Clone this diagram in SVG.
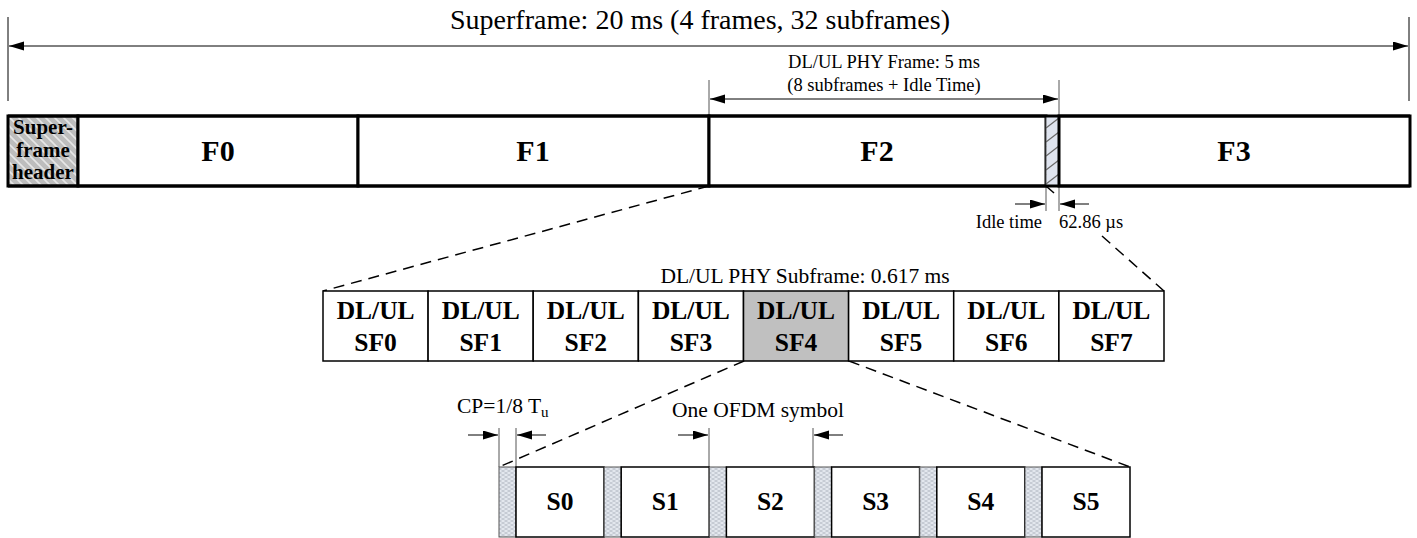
<svg xmlns="http://www.w3.org/2000/svg" width="1417" height="538" viewBox="0 0 1417 538">
<style>
text{font-family:"Liberation Serif","Times New Roman",serif;fill:#000}
.t18{font-size:18.5px}
.t22{font-size:21.5px}
.title{font-size:28px}
.b{font-weight:bold;text-anchor:middle}
.fl{font-size:30px}
.sf{font-size:25.5px}
.hd{font-size:21px}
.ln{stroke:#000;stroke-width:1;fill:none}
.gl{stroke:#555;stroke-width:1;fill:none}
.dash{stroke:#000;stroke-width:1.5;fill:none;stroke-dasharray:11 7}
.frame{fill:#fff;stroke:#000;stroke-width:3}
.box{fill:#fff;stroke:#000;stroke-width:1.5}
</style>
<defs>
<marker id="ah" markerUnits="userSpaceOnUse" markerWidth="16" markerHeight="10" refX="15" refY="4.5" orient="auto-start-reverse">
<path d="M0,0 L15,4.5 L0,9 z" fill="#000"/>
</marker>
<pattern id="hdr" patternUnits="userSpaceOnUse" width="9" height="9">
<rect width="9" height="9" fill="#bdbdbd"/>
<path d="M0,0 L9,9 M-3,6 L3,12 M6,-3 L12,3" stroke="#e6e6e6" stroke-width="1.6"/>
</pattern>
<pattern id="idle" patternUnits="userSpaceOnUse" x="1046" y="116" width="13" height="14">
<rect width="13" height="14" fill="#dfe4ef"/>
<path d="M0,12 L13,2 M-13,12 L0,2" stroke="#6a6a6a" stroke-width="1.3"/>
</pattern>
<pattern id="cp" patternUnits="userSpaceOnUse" width="6" height="4">
<rect width="6" height="4" fill="#e3e7ee"/>
<rect x="0.5" y="0.5" width="3" height="1" fill="#a9afbb"/>
<rect x="3.5" y="2.5" width="3" height="1" fill="#a9afbb"/>
<rect x="-2.5" y="2.5" width="3" height="1" fill="#a9afbb"/>
</pattern>
</defs>

<text class="title" x="700" y="29" text-anchor="middle">Superframe: 20 ms (4 frames, 32 subframes)</text>

<g id="connectors">
<line class="ln" x1="8" y1="17" x2="8" y2="101"/>
<line class="ln" x1="1409" y1="17" x2="1409" y2="101"/>
<line class="ln" x1="9" y1="46" x2="1408" y2="46" marker-start="url(#ah)" marker-end="url(#ah)"/>
<line class="gl" x1="709" y1="80" x2="709" y2="116"/>
<line class="gl" x1="1059" y1="80" x2="1059" y2="116"/>
<line class="ln" x1="710" y1="99" x2="1058" y2="99" marker-start="url(#ah)" marker-end="url(#ah)"/>
<line class="gl" x1="1046" y1="186" x2="1046" y2="211"/>
<line class="gl" x1="1059" y1="186" x2="1059" y2="211"/>
<line class="ln" x1="1015" y1="204" x2="1045" y2="204" marker-end="url(#ah)"/>
<line class="ln" x1="1089" y1="204" x2="1060" y2="204" marker-end="url(#ah)"/>
<line class="dash" x1="709" y1="186" x2="323" y2="291"/>
<line class="dash" x1="1046" y1="186" x2="1054" y2="193"/>
<line class="dash" x1="1102" y1="236" x2="1164" y2="291"/>
<line class="dash" x1="744" y1="361" x2="499" y2="467"/>
<line class="dash" x1="849" y1="361" x2="1130" y2="467"/>
<line class="gl" x1="499" y1="428" x2="499" y2="467"/>
<line class="gl" x1="516" y1="428" x2="516" y2="467"/>
<line class="ln" x1="468" y1="435" x2="498" y2="435" marker-end="url(#ah)"/>
<line class="ln" x1="546" y1="435" x2="517" y2="435" marker-end="url(#ah)"/>
<line class="gl" x1="709" y1="428" x2="709" y2="467"/>
<line class="gl" x1="813" y1="428" x2="813" y2="467"/>
<line class="ln" x1="678" y1="435" x2="708" y2="435" marker-end="url(#ah)"/>
<line class="ln" x1="843" y1="435" x2="814" y2="435" marker-end="url(#ah)"/>
</g>

<text class="t18" x="884" y="68" text-anchor="middle">DL/UL PHY Frame: 5 ms</text>
<text class="t18" x="884" y="91" text-anchor="middle">(8 subframes + Idle Time)</text>
<text class="t18" x="1042" y="228" text-anchor="end">Idle time</text>
<text class="t18" x="1059" y="228">62.86 µs</text>

<g id="superframe-header">
<rect x="8" y="116" width="70" height="70" fill="url(#hdr)" stroke="#000" stroke-width="3"/>
<text class="b hd" x="43" y="134">Super-</text>
<text class="b hd" x="43" y="157">frame</text>
<text class="b hd" x="43" y="179">header</text>
</g>
<g id="F0">
<rect class="frame" x="78" y="116" width="280" height="70"/>
<text class="b fl" x="218" y="161">F0</text>
</g>
<g id="F1">
<rect class="frame" x="358" y="116" width="351" height="70"/>
<text class="b fl" x="533" y="161">F1</text>
</g>
<g id="F2">
<rect class="frame" x="709" y="116" width="337" height="70"/>
<text class="b fl" x="877" y="161">F2</text>
</g>
<g id="idle-time">
<rect x="1046" y="116" width="13" height="70" fill="url(#idle)" stroke="#555" stroke-width="1"/>
</g>
<g id="F3">
<rect class="frame" x="1059" y="116" width="351" height="70"/>
<text class="b fl" x="1234" y="161">F3</text>
</g>
<line x1="8" y1="116" x2="1410" y2="116" stroke="#000" stroke-width="3"/>
<line x1="8" y1="186" x2="1410" y2="186" stroke="#000" stroke-width="3"/>

<text class="t22" x="805" y="283" text-anchor="middle">DL/UL PHY Subframe: 0.617 ms</text>

<g id="SF0"><rect class="box" x="323" y="291" width="105.1" height="70"/><text class="b sf" x="375.6" y="319">DL/UL</text><text class="b sf" x="375.6" y="351">SF0</text></g>
<g id="SF1"><rect class="box" x="428.1" y="291" width="105.1" height="70"/><text class="b sf" x="480.7" y="319">DL/UL</text><text class="b sf" x="480.7" y="351">SF1</text></g>
<g id="SF2"><rect class="box" x="533.2" y="291" width="105.1" height="70"/><text class="b sf" x="585.8" y="319">DL/UL</text><text class="b sf" x="585.8" y="351">SF2</text></g>
<g id="SF3"><rect class="box" x="638.4" y="291" width="105.1" height="70"/><text class="b sf" x="690.9" y="319">DL/UL</text><text class="b sf" x="690.9" y="351">SF3</text></g>
<g id="SF4"><rect class="box" x="743.5" y="291" width="105.1" height="70" style="fill:#c0c0c0"/><text class="b sf" x="796" y="319">DL/UL</text><text class="b sf" x="796" y="351">SF4</text></g>
<g id="SF5"><rect class="box" x="848.6" y="291" width="105.1" height="70"/><text class="b sf" x="901.1" y="319">DL/UL</text><text class="b sf" x="901.1" y="351">SF5</text></g>
<g id="SF6"><rect class="box" x="953.7" y="291" width="105.1" height="70"/><text class="b sf" x="1006.3" y="319">DL/UL</text><text class="b sf" x="1006.3" y="351">SF6</text></g>
<g id="SF7"><rect class="box" x="1058.9" y="291" width="105.1" height="70"/><text class="b sf" x="1111.4" y="319">DL/UL</text><text class="b sf" x="1111.4" y="351">SF7</text></g>

<text class="t22" x="457" y="413">CP=1/8 T<tspan font-size="15" dy="4">u</tspan></text>
<text class="t22" x="672" y="417">One OFDM symbol</text>

<g id="S0"><rect x="499" y="467" width="17" height="70" fill="url(#cp)" stroke="#555" stroke-width="1"/><rect class="box" x="516" y="467" width="88" height="70"/><text class="b sf" x="560" y="510">S0</text></g>
<g id="S1"><rect x="604.2" y="467" width="17" height="70" fill="url(#cp)" stroke="#555" stroke-width="1"/><rect class="box" x="621.2" y="467" width="88" height="70"/><text class="b sf" x="665.2" y="510">S1</text></g>
<g id="S2"><rect x="709.4" y="467" width="17" height="70" fill="url(#cp)" stroke="#555" stroke-width="1"/><rect class="box" x="726.4" y="467" width="88" height="70"/><text class="b sf" x="770.4" y="510">S2</text></g>
<g id="S3"><rect x="814.6" y="467" width="17" height="70" fill="url(#cp)" stroke="#555" stroke-width="1"/><rect class="box" x="831.6" y="467" width="88" height="70"/><text class="b sf" x="875.6" y="510">S3</text></g>
<g id="S4"><rect x="919.8" y="467" width="17" height="70" fill="url(#cp)" stroke="#555" stroke-width="1"/><rect class="box" x="936.8" y="467" width="88" height="70"/><text class="b sf" x="980.8" y="510">S4</text></g>
<g id="S5"><rect x="1025" y="467" width="17" height="70" fill="url(#cp)" stroke="#555" stroke-width="1"/><rect class="box" x="1042" y="467" width="88" height="70"/><text class="b sf" x="1086" y="510">S5</text></g>
</svg>
